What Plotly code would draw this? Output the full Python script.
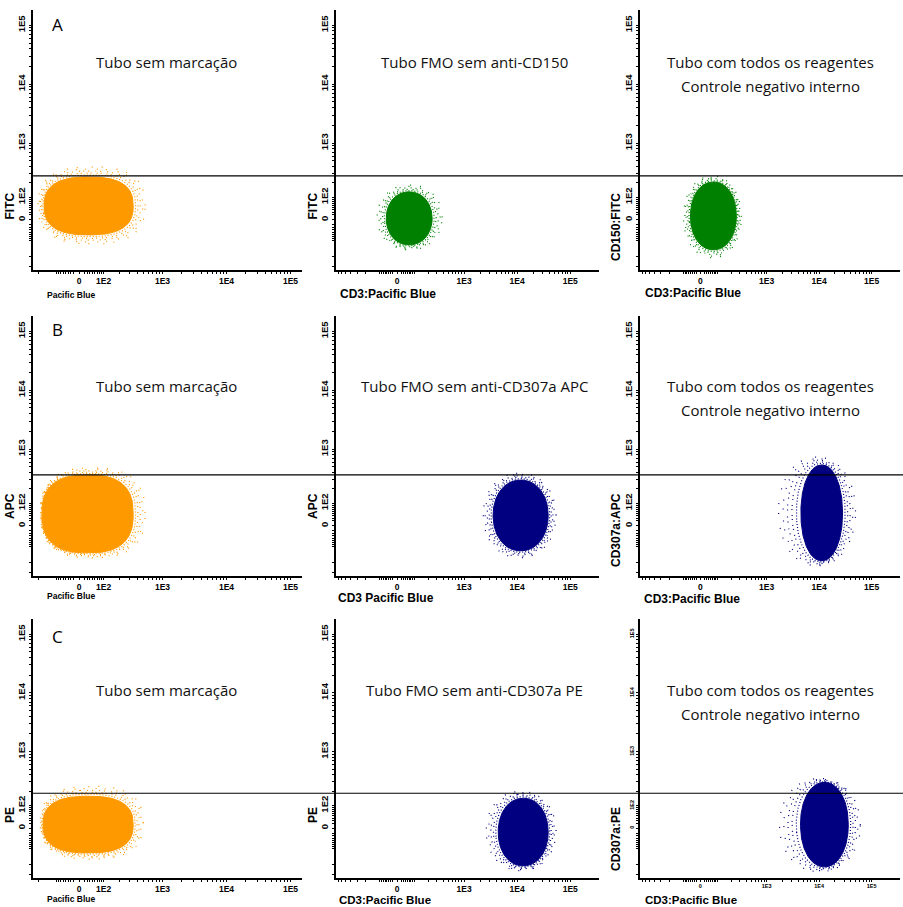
import numpy as np
import plotly.graph_objects as go

W, H = 903, 907

# ---------------- data ----------------
ROW_LETTERS = ["A", "B", "C"]
PANEL_TEXT = [
    "Tubo sem marcação",
    "Tubo FMO sem anti-CD150",
    "Tubo com todos os reagentes<br>Controle negativo interno",
    "Tubo sem marcação",
    "Tubo FMO sem anti-CD307a APC",
    "Tubo com todos os reagentes<br>Controle negativo interno",
    "Tubo sem marcação",
    "Tubo FMO sem anti-CD307a PE",
    "Tubo com todos os reagentes<br>Controle negativo interno",
]
X_TITLES = ["Pacific Blue", "CD3:Pacific Blue", "CD3:Pacific Blue",
            "Pacific Blue", "CD3 Pacific Blue", "CD3:Pacific Blue",
            "Pacific Blue", "CD3:Pacific Blue", "CD3:Pacific Blue"]
Y_TITLES = ["FITC", "FITC", "CD150:FITC",
            "APC", "APC", "CD307a:APC",
            "PE", "PE", "CD307a:PE"]
CLOUD_COLORS = ["#FF9900", "#008000", "#008000",
                "#FF9900", "#000080", "#000080",
                "#FF9900", "#000080", "#000080"]

# event populations (fluorescence intensity): dense core and sparse outer events
CORE_X_LO = [-162, -54, -50, -176, 3520, 4500, -169, 4390, 4420]
CORE_X_HI = [342, 239, 255, 342, 38400, 28000, 342, 38400, 36000]
CORE_Y_LO = [-62, -114, -146, -126, -114, -183, -114, -209, -218]
CORE_Y_HI = [258, 133, 209, 359, 292, 536, 160, 146, 292]
OUTER_X_LO = [-207, -108, -90, -190, 2290, 1680, -190, 2600, 1760]
OUTER_X_HI = [533, 380, 322, 533, 54000, 49400, 495, 54000, 61000]
OUTER_Y_LO = [-108, -146, -209, -160, -160, -227, -154, -258, -269]
OUTER_Y_HI = [389, 183, 269, 476, 389, 735, 247, 200, 344]

# positivity threshold drawn across each row
GATE_Y = [269, 359, 183]

TICK_VALUES_WIDE = [0, 1e2, 1e3, 1e4, 1e5]
TICK_TEXT_WIDE = ["0", "1E2", "1E3", "1E4", "1E5"]
TICK_VALUES_CD3 = [0, 1e3, 1e4, 1e5]
TICK_TEXT_CD3 = ["0", "1E3", "1E4", "1E5"]

# ---------------- scales ----------------
Y_COF = 100
X_COF = [100, 110, 110]
Y_RANGE = [-0.85, 3.56]
X_RANGE = [[-0.72, 3.48], [-1.15, 3.80], [-1.15, 3.80]]


def biex(v, cof):
    """arcsinh display transform, in decades"""
    return np.arcsinh(np.asarray(v, dtype=float) / cof) / np.log(10)


def minor_ticks(cof, rng):
    vals = []
    for n in range(1, 5):
        for m in range(2, 10):
            vals += [m * 10 ** n, -m * 10 ** n]
    t = biex(vals, cof)
    return sorted(float(v) for v in t if rng[0] < v < rng[1])


def blob(xlo, xhi, ylo, yhi, power, phase=0.0, n=240):
    th = np.linspace(phase, phase + 2 * np.pi, n)
    cx, cy = (xlo + xhi) / 2, (ylo + yhi) / 2
    ax, ay = (xhi - xlo) / 2, (yhi - ylo) / 2
    c, s = np.cos(th), np.sin(th)
    e = 2.0 / power
    return (cx + ax * np.sign(c) * np.abs(c) ** e,
            cy + ay * np.sign(s) * np.abs(s) ** e)


# ---------------- layout geometry (pixels) ----------------
COL_L = [33, 336, 640]
COL_R = [302, 599, 900]
ROW_T = [10, 316, 619]
ROW_B = [270, 576, 878]

fig = go.Figure()
layout = dict(width=W, height=H, margin=dict(l=0, r=0, t=0, b=0),
              paper_bgcolor="white", plot_bgcolor="white", showlegend=False)

TEXT_FONT = dict(family="Open Sans", size=15, color="#111111")
BOLD = dict(family="Liberation Sans", color="black", weight="bold")

# outer-event rings: (fraction between core and outer edge, dot pattern, start angle)
RINGS = [(1.0, "1px,14px,1px,9px", 0.0), (0.8, "1px,8px,1px,11px", 0.9),
         (0.6, "1px,6px,1px,4px", 1.7), (0.4, "1px,3px,1px,5px", 2.6),
         (0.2, "1px,2px", 3.3)]

annotations = []
shapes = []

for i in range(9):
    r, c = divmod(i, 3)
    k = i + 1
    xa = "x" if k == 1 else f"x{k}"
    ya = "y" if k == 1 else f"y{k}"
    xcof = X_COF[c]
    small = (i == 8)
    tick_size_x = 5.5 if small else 8.5
    tick_size_y = 5.5 if small else 9.5
    xt_vals = TICK_VALUES_WIDE if c == 0 else TICK_VALUES_CD3
    xt_text = TICK_TEXT_WIDE if c == 0 else TICK_TEXT_CD3

    layout["xaxis" + ("" if k == 1 else str(k))] = dict(
        domain=[COL_L[c] / W, COL_R[c] / W], anchor=ya, range=X_RANGE[c],
        showgrid=False, zeroline=False, showline=True, linecolor="black", linewidth=1.5,
        ticks="outside", ticklen=2, tickwidth=1, tickcolor="black",
        tickvals=list(biex(xt_vals, xcof)), ticktext=xt_text,
        tickfont=dict(BOLD, size=tick_size_x),
        minor=dict(tickvals=minor_ticks(xcof, X_RANGE[c]), ticks="outside",
                   ticklen=2.5, tickwidth=1, tickcolor="black"),
    )
    layout["yaxis" + ("" if k == 1 else str(k))] = dict(
        domain=[1 - ROW_B[r] / H, 1 - ROW_T[r] / H], anchor=xa, range=Y_RANGE,
        showgrid=False, zeroline=False, showline=True, linecolor="black", linewidth=1.5,
        ticks="outside", ticklen=2, tickwidth=1, tickcolor="black",
        tickvals=list(biex(TICK_VALUES_WIDE, Y_COF)), ticktext=TICK_TEXT_WIDE,
        tickangle=-90, tickfont=dict(BOLD, size=tick_size_y),
        minor=dict(tickvals=minor_ticks(Y_COF, Y_RANGE), ticks="outside",
                   ticklen=2.5, tickwidth=1, tickcolor="black"),
    )

    # event cloud: sparse outer events as dotted rings, dense core filled
    cxlo, cxhi = biex([CORE_X_LO[i], CORE_X_HI[i]], xcof)
    cylo, cyhi = biex([CORE_Y_LO[i], CORE_Y_HI[i]], Y_COF)
    oxlo, oxhi = biex([OUTER_X_LO[i], OUTER_X_HI[i]], xcof)
    oylo, oyhi = biex([OUTER_Y_LO[i], OUTER_Y_HI[i]], Y_COF)
    power = 2.6 if c == 0 else 2.1
    col = CLOUD_COLORS[i]
    for t, dash, phase in RINGS:
        bx, by = blob(cxlo + t * (oxlo - cxlo), cxhi + t * (oxhi - cxhi),
                      cylo + t * (oylo - cylo), cyhi + t * (oyhi - cyhi), power, phase)
        fig.add_trace(go.Scatter(x=bx, y=by, mode="lines", xaxis=xa, yaxis=ya,
                                 line=dict(color=col, width=1.2, dash=dash),
                                 hoverinfo="skip"))
    bx, by = blob(cxlo, cxhi, cylo, cyhi, power)
    fig.add_trace(go.Scatter(x=bx, y=by, mode="lines", fill="toself", fillcolor=col,
                             xaxis=xa, yaxis=ya, line=dict(color=col, width=1),
                             hoverinfo="skip"))

    # axis titles
    xt_pos = [(45, 295), (338, 294), (643, 293),
              (45, 596), (336, 598), (642, 599),
              (45, 899), (337, 900), (643, 900)][i]
    xsize = 8.5 if c == 0 else (11.5 if r == 2 else 12)
    annotations.append(dict(text=X_TITLES[i], x=xt_pos[0] / W, y=1 - xt_pos[1] / H,
                            xref="paper", yref="paper", xanchor="left", yanchor="middle",
                            showarrow=False, font=dict(BOLD, size=xsize)))
    yt_x = [10, 313, 616][c]
    yt_top = [191, 491, 805][r]
    annotations.append(dict(text=Y_TITLES[i], x=yt_x / W, y=1 - yt_top / H,
                            xref="paper", yref="paper", xanchor="center", yanchor="top",
                            textangle=-90, showarrow=False, font=dict(BOLD, size=12)))

    # panel description
    cx_txt = [166, 475, 770][c]
    cy_txt = [62, 386, 690][r]
    for j, line in enumerate(PANEL_TEXT[i].split("<br>")):
        annotations.append(dict(text=line, x=cx_txt / W, y=1 - (cy_txt + 24 * j) / H,
                                xref="paper", yref="paper", xanchor="center",
                                yanchor="middle", showarrow=False, font=TEXT_FONT))

for r in range(3):
    k = 3 * r + 1
    ya = "y" if k == 1 else f"y{k}"
    g = float(biex(GATE_Y[r], Y_COF))
    shapes.append(dict(type="line", xref="paper", yref=ya, x0=COL_L[0] / W, x1=1.0,
                       y0=g, y1=g, line=dict(color="black", width=1.2), layer="above"))
    annotations.append(dict(text=ROW_LETTERS[r], x=57 / W, y=1 - [24, 329, 636][r] / H,
                            xref="paper", yref="paper", xanchor="center", yanchor="middle",
                            showarrow=False, font=dict(family="Open Sans", size=17,
                                                       color="black")))

layout["annotations"] = annotations
layout["shapes"] = shapes
fig.update_layout(**layout)
fig.write_html("out.html")
